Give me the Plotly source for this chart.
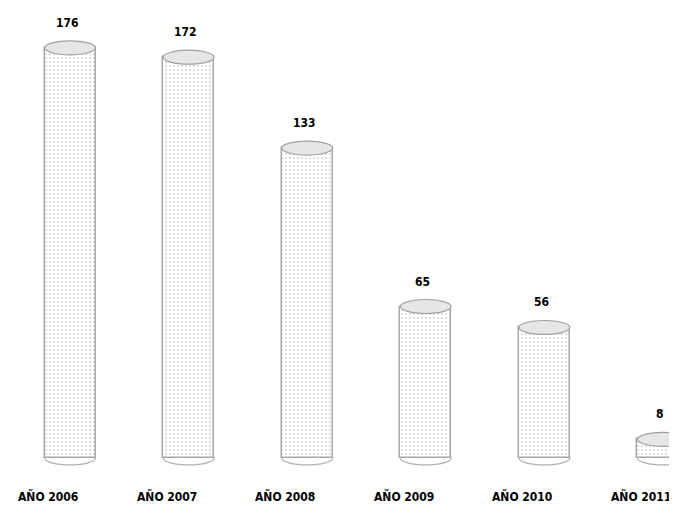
import plotly.graph_objects as go

categories = ["AÑO 2006", "AÑO 2007", "AÑO 2008", "AÑO 2009", "AÑO 2010", "AÑO 2011"]
values = [176, 172, 133, 65, 56, 8]

FONT = "Liberation Sans Narrow, Arial Narrow, DejaVu Sans Condensed, sans-serif"
BAR_W = 0.43
ELL_H = 6.0  # ellipse height in data units

xs = list(range(len(categories)))

fig = go.Figure()
fig.add_trace(go.Bar(
    x=xs, y=values, width=BAR_W,
    marker=dict(
        color="white",
        line=dict(color="#a8a8a8", width=1.5),
        pattern=dict(shape=".", fgcolor="#b8b8b8", bgcolor="white", size=4, solidity=0.25),
    ),
    hoverinfo="skip", showlegend=False,
))

shapes = []
annotations = []
for i, (c, v) in enumerate(zip(categories, values)):
    # top ellipse of the cylinder
    shapes.append(dict(type="circle", xref="x", yref="y",
                       x0=i - BAR_W / 2, x1=i + BAR_W / 2,
                       y0=v - ELL_H / 2, y1=v + ELL_H / 2,
                       line=dict(color="#a0a0a0", width=1.2),
                       fillcolor="#e6e6e6", layer="above"))
    # bottom ellipse (curved base)
    shapes.append(dict(type="circle", xref="x", yref="y",
                       x0=i - BAR_W / 2, x1=i + BAR_W / 2,
                       y0=-ELL_H / 2, y1=ELL_H / 2,
                       line=dict(color="#b0b0b0", width=1.2),
                       fillcolor="white", layer="below"))
    annotations.append(dict(x=i, y=v, xref="x", yref="y", text=f"<b>{v}</b>",
                            showarrow=False, yanchor="middle", yshift=25, xshift=-3,
                            font=dict(family=FONT, size=12, color="black")))
    annotations.append(dict(x=i, y=-16.7, xref="x", yref="y", text=f"<b>{c}</b>",
                            showarrow=False, yanchor="middle", xshift=-22,
                            font=dict(family=FONT, size=12, color="black")))

fig.update_layout(
    width=677, height=508,
    margin=dict(l=0, r=0, t=0, b=0),
    paper_bgcolor="white", plot_bgcolor="white",
    xaxis=dict(range=[-0.523, 5.186], visible=False, fixedrange=True),
    yaxis=dict(range=[-24.9, 193.1], visible=False, fixedrange=True),
    shapes=shapes, annotations=annotations,
    bargap=0,
)

fig.write_html("out.html")
